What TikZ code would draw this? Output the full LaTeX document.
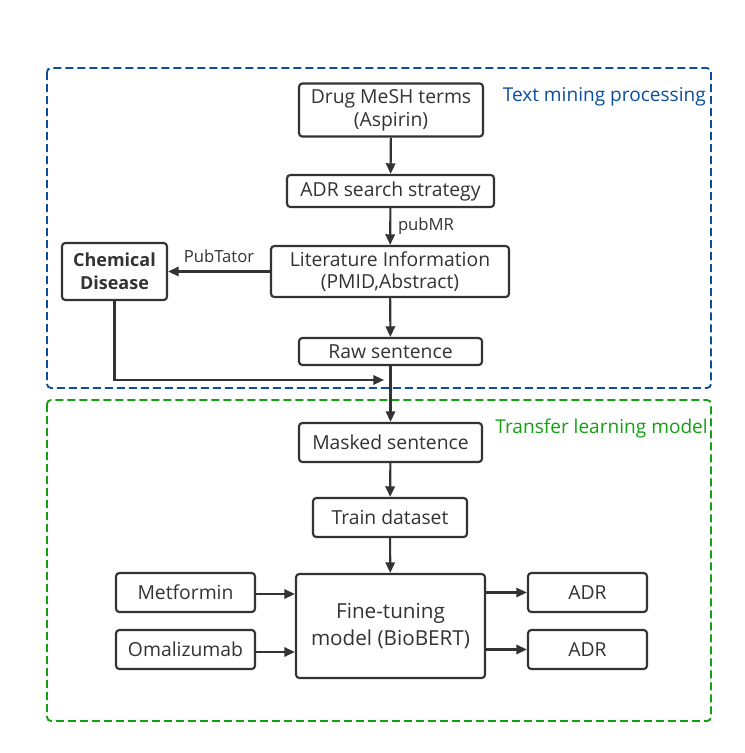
\documentclass[tikz,border=0pt]{standalone}
\usepackage{fontspec}
\setmainfont{Open Sans}
\usetikzlibrary{arrows.meta,positioning}
\definecolor{txt}{HTML}{333333}
\definecolor{blueframe}{HTML}{0B4F9C}
\definecolor{greenframe}{HTML}{13A013}
\tikzset{
  box/.style={draw=txt, line width=1.6pt, rounded corners=2.5pt, text=txt, inner sep=0pt, align=center, font=\fontsize{14.5}{17}\selectfont},
  conn/.style={draw=txt, line width=1.6pt, -{Triangle[length=8pt,width=7pt]}},
  frame/.style={dashed, dash pattern=on 6pt off 3pt, line width=1.4pt, rounded corners=3pt},
  lbl/.style={text=txt, font=\fontsize{12.5}{14}\selectfont, inner sep=0pt},
}
\begin{document}
\begin{tikzpicture}[x=0.75pt,y=-0.75pt]
\useasboundingbox[fill=white] (0,0) rectangle (744,753);
% frames
\draw[frame, blueframe] (47,68) rectangle (711,388);
\draw[frame, greenframe] (47,400) rectangle (711,721);
\node[anchor=east, text=blueframe, inner sep=0pt, font=\fontsize{14.3}{16}\selectfont] (t1) at (706,97) {Text mining processing};
\node[anchor=east, text=greenframe, inner sep=0pt, font=\fontsize{14.3}{16}\selectfont] (t2) at (708,428) {Transfer learning model};
% nodes
\node[box, minimum width=184*0.75pt, minimum height=53*0.75pt] (drug) at (391,110) {Drug MeSH terms\\(Aspirin)};
\node[box, minimum width=207*0.75pt, minimum height=32*0.75pt] (adr) at (390.5,191) {ADR search strategy};
\node[box, minimum width=238*0.75pt, minimum height=51*0.75pt] (lit) at (390,271.5) {Literature Information\\(PMID,Abstract)};
\node[box, minimum width=105*0.75pt, minimum height=57*0.75pt, font=\fontsize{13.5}{17}\selectfont\bfseries] (chem) at (114.5,271.5) {Chemical\\Disease};
\node[box, minimum width=183*0.75pt, minimum height=27*0.75pt] (raw) at (390.5,351.5) {Raw sentence};
\node[box, minimum width=183*0.75pt, minimum height=39*0.75pt] (mask) at (390.5,442.5) {Masked sentence};
\node[box, minimum width=154*0.75pt, minimum height=39*0.75pt] (train) at (390,517.5) {Train dataset};
\node[box, minimum width=189*0.75pt, minimum height=104*0.75pt, font=\fontsize{15.5}{20}\selectfont] (fine) at (390.5,626) {Fine-tuning\\model (BioBERT)};
\node[box, minimum width=139*0.75pt, minimum height=39*0.75pt] (met) at (185.5,592.5) {Metformin};
\node[box, minimum width=139*0.75pt, minimum height=39*0.75pt] (oma) at (185.5,649.5) {Omalizumab};
\node[box, minimum width=119*0.75pt, minimum height=39*0.75pt] (adr1) at (587.5,592.5) {ADR};
\node[box, minimum width=119*0.75pt, minimum height=39*0.75pt] (adr2) at (587.5,649.5) {ADR};
% connectors
\draw[conn] (drug) -- (adr);
\draw[conn] (adr) -- node[lbl, anchor=west, xshift=5pt, pos=0.5] (pubmr) {pubMR} (lit);
\draw[conn] (lit) -- node[lbl, anchor=south, yshift=6pt] (pubt) {PubTator} (chem);
\draw[conn] (lit) -- (raw);
\coordinate (mid) at (384,380);
\draw[conn] (chem.south) |- (mid);
\draw[conn] (raw) -- (mask);
\draw[conn] (mask) -- (train);
\draw[conn] (train) -- (fine);
\draw[conn] (met.east |- 0,594) -- (fine.west |- 0,594);
\draw[conn] (oma.east |- 0,652) -- (fine.west |- 0,652);
\draw[conn] (fine.east |- adr1) -- (adr1);
\draw[conn] (fine.east |- adr2) -- (adr2);
\end{tikzpicture}
\end{document}
